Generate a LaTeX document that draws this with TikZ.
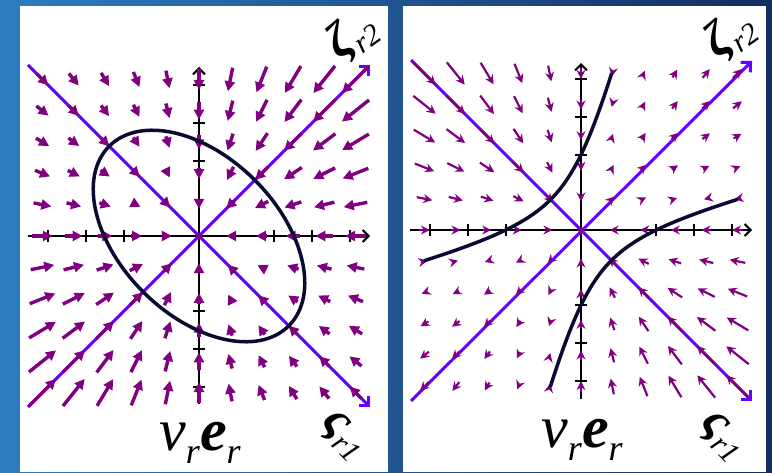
\documentclass[tikz,border=0pt]{standalone}
\usepackage{fontspec}
\setmainfont{Liberation Serif}
\usetikzlibrary{arrows.meta}

\definecolor{fieldpurple}{RGB}{128,0,128}
\definecolor{eigviolet}{RGB}{102,0,255}
\definecolor{conicnavy}{RGB}{10,10,50}
\definecolor{bgleft}{RGB}{45,125,195}
\definecolor{bgmid}{RGB}{30,85,150}
\definecolor{bgright}{RGB}{20,45,95}

\newcommand{\gridstep}{31.3}
\newcommand{\subsmall}{\fontsize{30}{30}\selectfont\mdseries\itshape}
\newcommand{\subvel}{\fontsize{36}{36}\selectfont\itshape}

\begin{document}
\begin{tikzpicture}[x=1pt, y=1pt,
axis/.style={line width=2pt, -{Straight Barb[length=6pt,width=12pt]}},
tickmark/.style={line width=1.5pt},
eigenline/.style={eigviolet, line width=3pt, -{Straight Barb[length=7pt,width=14pt]}},
sinkarrow/.style={fieldpurple, line width=3.4pt, -{Triangle[length=10pt,width=10pt]}},
saddlearrow/.style={fieldpurple, line width=2.2pt, -{Stealth[length=9pt,width=9pt,inset=3pt]}},
conic/.style={conicnavy, line width=3.5pt},
eiglabel/.style={font=\fontsize{50}{50}\selectfont\bfseries\itshape, inner sep=0pt},
vellabel/.style={font=\fontsize{60}{60}\selectfont, inner sep=0pt, anchor=base},
]

% Hintergrund und Tafeln
\useasboundingbox (0,0) rectangle (772,472);
\shade[left color=bgleft, middle color=bgmid, right color=bgright] (0,0) rectangle (772,472);
\fill[white] (20,0) rectangle (388,466);
\fill[white] (403,0) rectangle (766,466);

% Linke Tafel: Senke
\begin{scope}[shift={(199,236)}]
\draw[axis] (-171,0) -- (171,0);
\draw[axis] (0,-168) -- (0,169);
\foreach \t in {-151,-113,-75,75,113,151}{
  \draw[tickmark] (\t,-6) -- (\t,6);
  \draw[tickmark] (-6,\t) -- (6,\t);
}
\draw[eigenline] (-171,171) -- (171,-171);
\draw[eigenline] (-171,-171) -- (171,171);
\foreach \i in {-5,...,5}{
  \foreach \j in {-5,...,5}{
    \pgfmathtruncatemacro\isorigin{and(\i==0,\j==0)}
    \ifnum\isorigin=0
      \pgfmathsetmacro\rr{sqrt(\i*\i+\j*\j)}
      \pgfmathsetmacro\len{5+0.85*\rr*(3.7+3.6*\i*\j/(\rr*\rr))}
      \pgfmathsetmacro\dx{\len/2*\i/\rr}
      \pgfmathsetmacro\dy{\len/2*\j/\rr}
      \draw[sinkarrow] ({\i*\gridstep+(\dx)},{\j*\gridstep+(\dy)}) -- ({\i*\gridstep-(\dx)},{\j*\gridstep-(\dy)});
    \fi
  }
}
\fill[fieldpurple] (0,0) circle (3);
\draw[conic, rotate=-45] (0,0) ellipse [x radius=127, y radius=79];
\end{scope}

% Rechte Tafel: Sattel
\begin{scope}[shift={(581,242)}]
\draw[axis] (-171,0) -- (171,0);
\draw[axis] (0,-169) -- (0,167);
\foreach \t in {-151,-113,-75,75,113,151}{
  \draw[tickmark] (\t,-6) -- (\t,6);
  \draw[tickmark] (-6,\t) -- (6,\t);
}
\draw[eigenline] (-170,170) -- (171,-171);
\draw[eigenline] (-170,-171) -- (171,169);
\foreach \i in {-5,...,5}{
  \foreach \j in {-5,...,5}{
    \pgfmathtruncatemacro\isorigin{and(\i==0,\j==0)}
    \ifnum\isorigin=0
      \pgfmathsetmacro\rr{sqrt(\i*\i+\j*\j)}
      \pgfmathsetmacro\raw{6*\i*\j/\rr-1.6*\rr}
      \pgfmathsetmacro\sg{\raw<0 ? -1 : 1}
      \pgfmathsetmacro\len{4+0.85*abs(\raw)}
      \pgfmathsetmacro\dx{\sg*\len/2*\i/\rr}
      \pgfmathsetmacro\dy{\sg*\len/2*\j/\rr}
      \draw[saddlearrow] ({\i*\gridstep-(\dx)},{\j*\gridstep-(\dy)}) -- ({\i*\gridstep+(\dx)},{\j*\gridstep+(\dy)});
    \fi
  }
}
\fill[fieldpurple] (0,0) circle (3);
\draw[conic] plot[domain=-1.36:1.36, samples=40, variable=\t]
  ({0.7071*(-43*cosh(\t)+73*sinh(\t))}, {0.7071*(43*cosh(\t)+73*sinh(\t))});
\draw[conic] plot[domain=-1.36:1.36, samples=40, variable=\t]
  ({0.7071*(43*cosh(\t)+73*sinh(\t))}, {0.7071*(-43*cosh(\t)+73*sinh(\t))});
\end{scope}

% Beschriftungen
\node[eiglabel, rotate=35] (zetaL) at (352,436) {ζ\raisebox{-8pt}{\subsmall r2}};
\node[eiglabel, rotate=-45] (sigmaL) at (343,36) {ς\raisebox{-8pt}{\subsmall r1}};
\node[vellabel] (velL) at (200,22) {\textit{v}\raisebox{-14pt}{\subvel r}\textbf{\textit{e}}\raisebox{-14pt}{\subvel r}};

\node[eiglabel, rotate=35] (zetaR) at (730,437) {ζ\raisebox{-8pt}{\subsmall r2}};
\node[eiglabel, rotate=-45] (sigmaR) at (722,35) {ς\raisebox{-8pt}{\subsmall r1}};
\node[vellabel] (velR) at (582,25) {\textit{v}\raisebox{-14pt}{\subvel r}\textbf{\textit{e}}\raisebox{-14pt}{\subvel r}};

\end{tikzpicture}
\end{document}
